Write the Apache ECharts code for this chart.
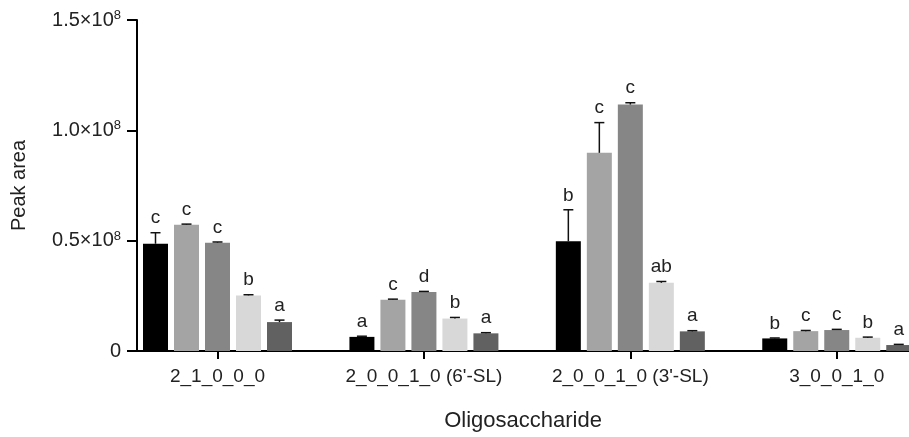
<!DOCTYPE html>
<html>
<head>
    <meta charset="utf-8">
    <style>
        html, body { margin: 0; padding: 0; background: #fff; }
        #chart-container { width: 909px; height: 437px; }
    </style>
</head>
<body>
    <div id="chart-container"></div>

    <script type="text/javascript" src="https://cdn.jsdelivr.net/npm/echarts@6/dist/echarts.min.js"></script>
    <script type="text/javascript">
        // data (peak area in units of 10^8)
        var categories = ["2_1_0_0_0", "2_0_0_1_0 (6'-SL)", "2_0_0_1_0 (3'-SL)", "3_0_0_1_0"];
        var yTicks = [0, 0.5, 1.0, 1.5];

        var means1 = [0.486, 0.064, 0.497, 0.057];
        var means2 = [0.572, 0.232, 0.898, 0.090];
        var means3 = [0.491, 0.267, 1.117, 0.095];
        var means4 = [0.252, 0.147, 0.309, 0.060];
        var means5 = [0.131, 0.080, 0.089, 0.027];

        var errs1 = [0.050, 0.003, 0.143, 0.002];
        var errs2 = [0.003, 0.003, 0.137, 0.003];
        var errs3 = [0.003, 0.003, 0.008, 0.003];
        var errs4 = [0.003, 0.005, 0.006, 0.003];
        var errs5 = [0.009, 0.003, 0.003, 0.003];

        var letters1 = ['c', 'a', 'b', 'b'];
        var letters2 = ['c', 'c', 'c', 'c'];
        var letters3 = ['c', 'd', 'c', 'c'];
        var letters4 = ['b', 'b', 'ab', 'b'];
        var letters5 = ['a', 'a', 'a', 'a'];

        var means = [means1, means2, means3, means4, means5];
        var errs = [errs1, errs2, errs3, errs4, errs5];
        var letters = [letters1, letters2, letters3, letters4, letters5];
        var colors = ['#000000', '#a4a4a4', '#868686', '#d8d8d8', '#616161'];

        var FONT = 'Liberation Sans';
        var TEXT = '#222';
        var BAR_W = 25, BAR_STEP = 31;

        var chartDom = document.getElementById("chart-container");
        var myChart = echarts.init(chartDom);

        var series = [];
        // bars
        means.forEach(function (m, k) {
            series.push({
                type: 'bar',
                name: 'g' + k,
                barWidth: BAR_W,
                barGap: ((BAR_STEP - BAR_W) / BAR_W * 100) + '%',
                itemStyle: { color: colors[k] },
                data: m.map(function (v, i) { return [i, v]; }),
                silent: true
            });
        });
        // error bars + significance letters
        means.forEach(function (m, k) {
            series.push({
                type: 'custom',
                encode: { x: 0, y: 1 },
                silent: true,
                z: 5,
                data: m.map(function (v, i) { return [i, v, errs[k][i]]; }),
                renderItem: function (params, api) {
                    var x = api.value(0), v = api.value(1), e = api.value(2);
                    var base = api.coord([x, v]);
                    var top = api.coord([x, v + e]);
                    var cx = base[0] + (k - 2) * BAR_STEP;
                    return {
                        type: 'group',
                        children: [
                            { type: 'line', shape: { x1: cx, y1: base[1], x2: cx, y2: top[1] },
                              style: { stroke: '#111', lineWidth: 1.5 } },
                            { type: 'line', shape: { x1: cx - 5, y1: top[1], x2: cx + 5, y2: top[1] },
                              style: { stroke: '#111', lineWidth: 1.5 } },
                            { type: 'text', x: cx, y: top[1] - 5,
                              style: { text: letters[k][params.dataIndex], align: 'center', verticalAlign: 'bottom',
                                       font: '19px "' + FONT + '"', fill: TEXT } }
                        ]
                    };
                }
            });
        });

        var option = {
            animation: false,
            grid: { left: 137, right: 0, top: 20, bottom: 85 },
            xAxis: {
                type: 'value',
                min: -0.39,
                max: 3.35,
                name: 'Oligosaccharide',
                nameLocation: 'middle',
                nameGap: 59,
                nameTextStyle: { fontFamily: FONT, fontSize: 22, color: TEXT },
                splitLine: { show: false },
                axisLine: { lineStyle: { color: '#000', width: 2 } },
                axisTick: { customValues: [0, 1, 2, 3], length: 8, lineStyle: { color: '#000', width: 2 } },
                axisLabel: {
                    customValues: [0, 1, 2, 3],
                    margin: 16,
                    fontFamily: FONT, fontSize: 19, color: TEXT,
                    formatter: function (v) { return categories[Math.round(v)]; }
                }
            },
            yAxis: {
                type: 'value',
                min: yTicks[0],
                max: yTicks[yTicks.length - 1],
                interval: 0.5,
                name: 'Peak area',
                nameLocation: 'middle',
                nameGap: 108,
                nameTextStyle: { fontFamily: FONT, fontSize: 20, color: TEXT },
                splitLine: { show: false },
                axisLine: { show: true, onZero: false, lineStyle: { color: '#000', width: 2 } },
                axisTick: { show: true, length: 10, lineStyle: { color: '#000', width: 2 } },
                axisLabel: {
                    margin: 16,
                    fontFamily: FONT, fontSize: 20, color: TEXT,
                    formatter: function (v) {
                        if (v === 0) return '{n|0}';
                        return '{n|' + v.toFixed(1) + '×10}{s|8}';
                    },
                    rich: {
                        n: { fontFamily: FONT, fontSize: 20, color: TEXT, lineHeight: 22 },
                        s: { fontFamily: FONT, fontSize: 13, color: TEXT, lineHeight: 22, verticalAlign: 'top', padding: [0, 0, 10, 0] }
                    }
                }
            },
            series: series
        };
        myChart.setOption(option);
    </script>
</body>
</html>
